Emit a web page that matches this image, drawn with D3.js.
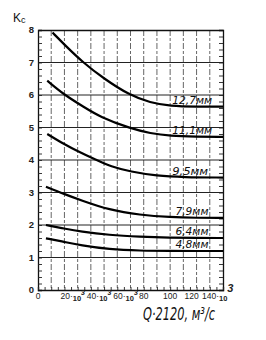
<!DOCTYPE html>
<html>
<head>
<meta charset="utf-8">
<script src="https://cdn.jsdelivr.net/npm/d3@7"></script>
<style>
body { margin: 0; background: #fff; }
svg { display: block; }
</style>
</head>
<body>
<svg width="266" height="340"></svg>
<script>
// curve labels (nozzle diameter)
var names = ["12,7мм", "11,1мм", "9,5мм", "7,9мм", "6,4мм", "4,8мм"];

// Q (x10^3) and Kc
var q127 = [11, 20, 34, 50, 69, 85, 100, 120, 140];
var k127 = [7.92, 7.55, 7.0, 6.5, 6.0, 5.76, 5.66, 5.64, 5.64];
var q111 = [7, 20, 34, 47, 70, 85, 100, 120, 140];
var k111 = [6.44, 6.0, 5.65, 5.32, 4.97, 4.82, 4.74, 4.72, 4.71];
var q95 = [7, 20, 30, 44, 55, 70, 90, 110, 140];
var k95 = [4.8, 4.48, 4.27, 4.0, 3.8, 3.64, 3.51, 3.47, 3.46];
var q79 = [6, 20, 32, 54, 77, 100, 120, 140];
var k79 = [3.18, 2.95, 2.77, 2.46, 2.31, 2.24, 2.22, 2.22];
var q64 = [6, 20, 32, 54, 77, 100, 120, 140];
var k64 = [2.0, 1.89, 1.8, 1.69, 1.64, 1.61, 1.6, 1.6];
var q48 = [6, 20, 32, 54, 77, 100, 120, 140];
var k48 = [1.59, 1.48, 1.38, 1.25, 1.21, 1.2, 1.2, 1.2];

var xTicks = [0, 20, 40, 60, 80, 100, 120, 140];
var xTickText = ["0", "20·", "40·", "60·", "80", "100", "120", "140·"];
var xTickTen = ["", "10", "10", "10", "", "", "", "10"];
var xTickPow = ["", "3", "3", "3", "", "", "", "3"];
var yTicks = [0, 1, 2, 3, 4, 5, 6, 7, 8];

var series = [
    { name: names[0], q: q127, k: k127 },
    { name: names[1], q: q111, k: k111 },
    { name: names[2], q: q95, k: k95 },
    { name: names[3], q: q79, k: k79 },
    { name: names[4], q: q64, k: k64 },
    { name: names[5], q: q48, k: k48 }
];

var svg = d3.select("svg");
var x = d3.scaleLinear().domain([0, 140]).range([38, 223]);
var y = d3.scaleLinear().domain([0, 8]).range([290, 30]);

// vertical dashed grid every 10
svg.append("g")
    .selectAll("line")
    .data(d3.range(10, 140, 10))
    .enter()
    .append("line")
    .attr("x1", d => x(d)).attr("x2", d => x(d))
    .attr("y1", y(8)).attr("y2", y(0))
    .attr("stroke", "#555")
    .attr("stroke-width", 0.9)
    .attr("stroke-dasharray", "6,2,3,2");

// horizontal solid grid
svg.append("g")
    .selectAll("line")
    .data(yTicks.slice(1, 8))
    .enter()
    .append("line")
    .attr("x1", x(0)).attr("x2", x(140))
    .attr("y1", d => y(d)).attr("y2", d => y(d))
    .attr("stroke", "#222")
    .attr("stroke-width", 1);

// minor ticks on both sides and the bottom
var minor = d3.range(0, 8.01, 0.2);
svg.append("g")
    .attr("transform", "translate(" + x(0) + ",0)")
    .call(d3.axisLeft(y).tickValues(minor).tickSize(-4).tickFormat(""));
svg.append("g")
    .attr("transform", "translate(" + x(140) + ",0)")
    .call(d3.axisRight(y).tickValues(minor).tickSize(-4).tickFormat(""));
svg.append("g")
    .attr("transform", "translate(0," + y(0) + ")")
    .call(d3.axisBottom(x).tickValues(d3.range(0, 141, 5)).tickSize(-3).tickFormat(""));
svg.append("g")
    .attr("transform", "translate(0," + y(8) + ")")
    .call(d3.axisTop(x).tickValues([]).tickSizeOuter(0));

svg.selectAll(".domain").attr("stroke", "#111").attr("stroke-width", 1.3);
svg.selectAll(".tick line").attr("stroke", "#222").attr("stroke-width", 0.9);

// y tick labels
svg.append("g")
    .selectAll("text")
    .data(yTicks)
    .enter()
    .append("text")
    .attr("x", 34)
    .attr("y", d => y(d) + 3)
    .attr("text-anchor", "end")
    .attr("font-family", "Liberation Sans, Arial, sans-serif")
    .attr("font-size", 9.5)
    .attr("font-weight", "bold")
    .attr("fill", "#222")
    .text(d => d);

// x tick labels (the scan has them a bit off the ticks on the right)
var xl = svg.append("g")
    .selectAll("text")
    .data(xTicks)
    .enter()
    .append("text")
    .attr("x", function (d, i) {
        if (i == 7) return x(d) - 21;
        if (i == 6) return x(d) - 5;
        if (xTickTen[i]) return x(d) - 4;
        return x(d);
    })
    .attr("y", 299)
    .attr("text-anchor", (d, i) => xTickTen[i] ? "start" : "middle")
    .attr("font-family", "Liberation Sans, Arial, sans-serif")
    .attr("font-size", 8.5)
    .attr("fill", "#222");
xl.append("tspan").text((d, i) => xTickText[i]);
xl.append("tspan")
    .attr("dy", (d, i) => xTickTen[i] ? 1.5 : 0)
    .attr("font-size", 7.5)
    .attr("font-weight", "bold")
    .text((d, i) => xTickTen[i]);
xl.append("tspan")
    .attr("dy", (d, i) => i == 7 ? -9 : -6)
    .attr("font-size", (d, i) => i == 7 ? 11 : 7)
    .attr("font-style", "italic")
    .attr("font-weight", "bold")
    .text((d, i) => xTickPow[i]);

// curves
var line = d3.line()
    .x(d => x(d[0]))
    .y(d => y(d[1]))
    .curve(d3.curveBasis);

svg.append("g")
    .selectAll("path")
    .data(series)
    .enter()
    .append("path")
    .attr("d", d => line(d.q.map((v, i) => [v, d.k[i]])))
    .attr("fill", "none")
    .attr("stroke", "#000")
    .attr("stroke-width", 2.2);

// curve labels
svg.append("g")
    .selectAll("text")
    .data(series)
    .enter()
    .append("text")
    .attr("x", (d, i) => i < 3 ? x(101.5) : x(104))
    .attr("y", d => y(d.k[d.k.length - 1]) - 3)
    .attr("font-family", "DejaVu Sans, sans-serif")
    .attr("font-style", "italic")
    .attr("font-size", 11)
    .attr("textLength", (d, i) => i < 3 ? (i == 2 ? 36 : 40) : 33)
    .attr("lengthAdjust", "spacingAndGlyphs")
    .attr("fill", "#111")
    .text(d => d.name);

// axis titles
var kc = svg.append("text")
    .attr("x", 13)
    .attr("y", 22)
    .attr("font-family", "Liberation Sans, Arial, sans-serif")
    .attr("font-size", 12)
    .attr("fill", "#111");
kc.append("tspan").text("K");
kc.append("tspan").attr("dy", 1).attr("font-size", 9).text("c");

svg.append("text")
    .attr("x", 143)
    .attr("y", 320)
    .attr("font-family", "DejaVu Sans, sans-serif")
    .attr("font-style", "italic")
    .attr("font-size", 17)
    .attr("textLength", 72)
    .attr("lengthAdjust", "spacingAndGlyphs")
    .attr("fill", "#111")
    .text("Q·2120, м³/с");
</script>
</body>
</html>
